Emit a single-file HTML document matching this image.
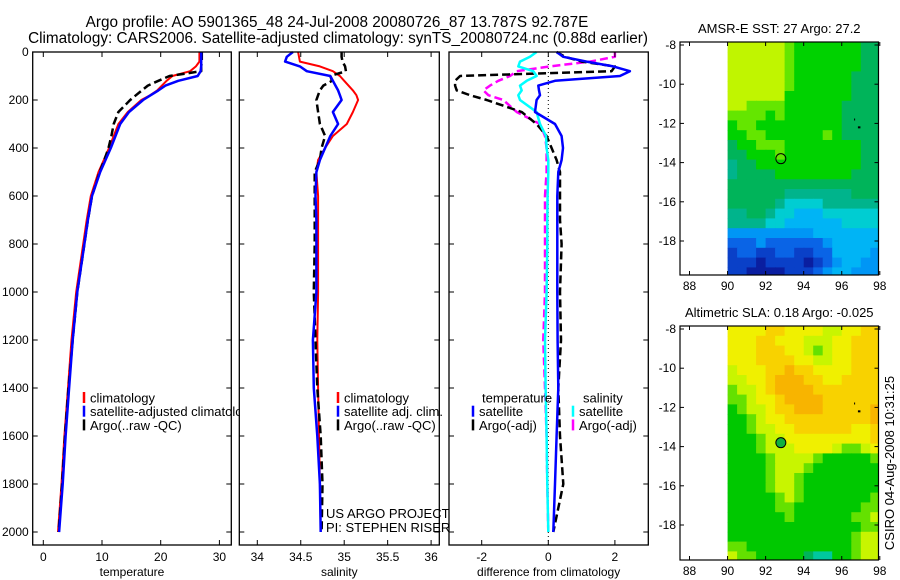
<!DOCTYPE html>
<html><head><meta charset="utf-8"><style>
html,body{margin:0;padding:0;background:#fff;}
svg{display:block;font-family:"Liberation Sans",sans-serif;}
</style></head><body>
<svg id="fig" width="900" height="580" viewBox="0 0 900 580" xmlns="http://www.w3.org/2000/svg">
<rect width="900" height="580" fill="#fff"/>
<text x="337" y="27" font-size="15.3" text-anchor="middle">Argo profile: AO 5901365_48 24-Jul-2008 20080726_87 13.787S 92.787E</text>
<text x="338" y="43" font-size="15.3" text-anchor="middle">Climatology: CARS2006. Satellite-adjusted climatology: synTS_20080724.nc (0.88d earlier)</text>
<g id="layer"></g>
<text transform="translate(894,463) rotate(-90)" font-size="13" text-anchor="middle">CSIRO 04-Aug-2008 10:31:25</text>
</svg>
<script>
// ---- data ----
const depths = [0,20,40,60,80,100,120,140,160,180,200,250,300,350,400,450,500,600,700,800,1000,1200,1400,1600,1800,2000];
const tempClim = [26.6,26.6,26.6,26,25,22,21,20.2,19.4,18.2,16.7,14.4,12.8,12,11.2,10.3,9.4,8.1,7.4,6.8,5.6,4.8,4.2,3.6,3.1,2.5];
const tempSat  = [26.9,26.9,26.9,26.9,26.8,26.3,23,20.8,19.6,18.3,17,14.6,13.1,12.3,11.5,10.6,9.7,8.3,7.6,7,5.8,5,4.4,3.8,3.3,2.7];
const tempArgo = [27,27,27,26.9,26.9,21.5,19.6,17.8,16.8,15.8,14.8,12.8,12,11.6,11.1,10.4,9.6,8.3,7.6,7,5.8,5,4.3,3.7,3.2,2.6];
const salClim = [34.47,34.48,34.49,34.72,34.87,34.95,35.0,35.05,35.1,35.14,35.16,35.1,35.03,34.87,34.78,34.7,34.68,34.7,34.7,34.7,34.7,34.69,34.7,34.71,34.72,34.73];
const salSat  = [34.41,34.34,34.32,34.49,34.57,34.84,34.87,34.9,34.93,34.95,34.97,34.87,34.93,34.84,34.78,34.72,34.68,34.67,34.68,34.68,34.68,34.64,34.65,34.69,34.72,34.73];
const salArgo = [34.97,34.97,34.98,35.01,35.02,34.84,34.86,34.76,34.72,34.7,34.68,34.7,34.72,34.78,34.74,34.72,34.66,34.66,34.66,34.66,34.65,34.67,34.69,34.73,34.75,34.74];
const dTempSat  = [0.25,0.45,1.15,1.95,2.45,2.15,0.2,-0.3,-0.28,-0.25,-0.35,-0.4,0.2,0.4,0.44,0.4,0.3,0.27,0.27,0.27,0.27,0.28,0.3,0.25,0.2,0.15];
const dTempArgo = [0.25,0.5,1.0,2.0,1.9,-2.65,-2.8,-2.8,-2.75,-2.35,-1.85,-0.8,-0.35,-0.05,0.1,0.25,0.35,0.35,0.35,0.4,0.35,0.38,0.3,0.35,0.45,0.15];
const dSalSat   = [-0.35,-0.55,-0.85,-0.9,-0.45,-0.35,-0.65,-0.85,-0.8,-0.9,-0.85,-0.35,-0.25,-0.07,-0.05,0,0,-0.02,-0.03,-0.03,-0.05,-0.1,-0.08,-0.05,-0.03,0];
const dSalArgo  = [2.0,2.0,1.25,0.05,-0.95,-1.15,-1.5,-1.75,-1.95,-1.8,-1.35,-0.95,-0.25,-0.1,-0.05,-0.05,-0.05,-0.1,-0.1,-0.1,-0.1,-0.15,-0.1,-0.05,-0.03,0];
const depthTicks = [0,200,400,600,800,1000,1200,1400,1600,1800,2000];
const tempTicks = [0,10,20,30];
const salTicks = [34,34.5,35,35.5,36];
const diffTicks = [-2,0,2];
const lonTicks = [88,90,92,94,96,98];
const latTicks = [-8,-10,-12,-14,-16,-18];
// SST grid: rows lat -8..-19.5 step 0.5, cols lon 90..97.5 step 0.5 (codes 0-a)
const sstGrid = [
"aaaaaa9888888877","aaaaaa9888888877","aaaaaa9888888877","aaaaaa9888888777","aaaaaa9888888777","aaaaaa8888888777",
"aa99998888887777","9999898888887777","8998888888887777","8899888888987777","7889998888888877","7788898888888877",
"6778888888888877","6777788888888777","7777777777777777","7777776666666777","7777765555666666","6677655444555555",
"6666554444445555","3333333334444444","2223222222344444","1221122112244443","1110111101234433","1100001112344333"];
// SLA grid: codes 6-d
const slaGrid = [
"bbbbccbbbbaabbcc","bbbccbbbaaabbccc","bbbcccbba9abbccc","bbbccccbbaabbccc","abbbccdccbbbbccc","aabbcdddccbbcccc",
"9aabcddddccccccc","99abbcddddcccccc","89aabccdddcccccd","889abbcccccccccd","889aabbccccccbbc","8889aabbbbbbbbbc",
"8889aaabbbba99ab","88889aaaa9888889","88889aaa98888888","88889aa988888888","88889aa988888888","888889a988888889",
"8888899888888899","888888988888899a","8888888888888899","88888888888889aa","99888888888889aa","a99888887668 9aa".replace(' ','8')];
const sstColors = {"0":"#0a1ea0","1":"#0a40c8","2":"#0a64e6","3":"#0096f5","4":"#00b4f5","5":"#00cdd2","6":"#00b48c","7":"#00b45a","8":"#00d200","9":"#64e600","a":"#c0f500"};
const slaColors = {"6":"#00c8a0","7":"#00b45a","8":"#00c800","9":"#64e100","a":"#c8f500","b":"#f0f000","c":"#f8d200","d":"#f8b400"};

const NS="http://www.w3.org/2000/svg";
const layer=document.getElementById('layer');
function mk(tag,attrs,parent){const e=document.createElementNS(NS,tag);for(const k in attrs)e.setAttribute(k,attrs[k]);(parent||layer).appendChild(e);return e;}

const Y0=52, YPX=0.24;
function yD(d){return Y0+d*YPX;}
const PT=52, PB=545;

function panel(name,x0,x1,xmin,xmax,ticks,fmtLabel,xlabel,showY){
  const g=mk('g',{});
  
  
  mk('rect',{x:x0,y:PT,width:x1-x0,height:PB-PT,fill:'#fff'},g);
  const sx=v=>x0+(v-xmin)/(xmax-xmin)*(x1-x0);
  return {g,sx,x0,x1,ticks,fmtLabel,xlabel,showY};
}
function finishPanel(p){
  const g=p.g;
  const cl=mk('rect',{x:p.x0,y:PT,width:p.x1-p.x0,height:PB-PT,fill:'none',stroke:'#000','stroke-width':1.3},g);
  
  
  p.ticks.forEach(v=>{
    const x=p.sx(v);
    mk('line',{x1:x,y1:PB,x2:x,y2:PB-5,stroke:'#000'},g);
    mk('line',{x1:x,y1:PT,x2:x,y2:PT+5,stroke:'#000'},g);
    const t=mk('text',{x:x,y:PB+16,'font-size':12,'text-anchor':'middle'},g);
    t.textContent=p.fmtLabel(v);
    
    
  });
  depthTicks.forEach(d=>{
    const y=yD(d);
    mk('line',{x1:p.x0,y1:y,x2:p.x0+5,y2:y,stroke:'#000'},g);
    mk('line',{x1:p.x1,y1:y,x2:p.x1-5,y2:y,stroke:'#000'},g);
    if(p.showY){
      const t=mk('text',{x:p.x0-4,y:y+4,'font-size':12,'text-anchor':'end'},g);
      t.textContent=d;
      
      
    }
  });
  const xl=mk('text',{x:(p.x0+p.x1)/2,y:PB+31,'font-size':12,'text-anchor':'middle'},g);
  xl.textContent=p.xlabel;
  
  
}
function series(p,vals,color,w,dash,name){
  const pts=vals.map((v,i)=>p.sx(v).toFixed(1)+','+yD(depths[i]).toFixed(1)).join(' ');
  const a={points:pts,fill:'none',stroke:color,'stroke-width':w,'stroke-linejoin':'round'};
  if(dash)a['stroke-dasharray']=dash;
  const e=mk('polyline',a,p.g);
  
  
}
function legend(p,x,y,items){
  items.forEach((it,i)=>{
    const yy=y+i*13.7;
    mk('line',{x1:x,y1:yy-6,x2:x,y2:yy+5,stroke:it[1],'stroke-width':2.5},p.g);
    const t=mk('text',{x:x+6,y:yy+4.5,'font-size':13},p.g);
    t.textContent=it[0];
    
    
  });
}

const p1=panel('temperature-panel',32.7,231.3,(32.7-43.3)/5.87,(231.3-43.3)/5.87,tempTicks,v=>v,'temperature',true);
series(p1,tempClim,'#f00',2,null,'temp-climatology-line');
series(p1,tempArgo,'#000',2.5,'8,4','temp-argo-line');
series(p1,tempSat,'#00f',2.5,null,'temp-satellite-line');
legend(p1,84,398,[['climatology','#f00'],['satellite-adjusted climatology','#00f'],['Argo(..raw -QC)','#000']]);
finishPanel(p1);

const p2=panel('salinity-panel',239.3,439.3,34+(239.3-257.3)/86.9,34+(439.3-257.3)/86.9,salTicks,v=>v,'salinity',false);
series(p2,salClim,'#f00',2,null,'sal-climatology-line');
series(p2,salArgo,'#000',2.5,'8,4','sal-argo-line');
series(p2,salSat,'#00f',2.5,null,'sal-satellite-line');
legend(p2,338,398,[['climatology','#f00'],['satellite adj. clim.','#00f'],['Argo(..raw -QC)','#000']]);
[['US ARGO PROJECT',518],['PI: STEPHEN RISER',532]].forEach(s=>{
  const t=mk('text',{x:326,y:s[1],'font-size':13},p2.g);t.textContent=s[0];
  
  
});
finishPanel(p2);

const p3=panel('difference-panel',449,648.3,(449-548.3)/33.3,(648.3-548.3)/33.3,diffTicks,v=>v,'difference from climatology',false);
mk('line',{x1:p3.sx(0),y1:PT,x2:p3.sx(0),y2:PB,stroke:'#000','stroke-dasharray':'1,3'},p3.g);
series(p3,dSalArgo,'#f0f','2.5','8,4','sal-argo-diff-line');
series(p3,dTempArgo,'#000','2.5','8,4','temp-argo-diff-line');
series(p3,dSalSat,'#0ff',2.5,null,'sal-satellite-diff-line');
series(p3,dTempSat,'#00f',2.5,null,'temp-satellite-diff-line');
[['temperature',482,398],['salinity',583,398]].forEach(s=>{
  const t=mk('text',{x:s[1],y:s[2]+4.5,'font-size':13},p3.g);t.textContent=s[0];
  
  
});
legend(p3,473,411.7,[['satellite','#00f'],['Argo(-adj)','#000']]);
legend(p3,573,411.7,[['satellite','#0ff'],['Argo(-adj)','#f0f']]);
finishPanel(p3);

function map(name,top,bottom,grid,colors,title,filledCircle){
  const g=mk('g',{});
  
  
  const L=680,R=878.5;
  const sx=v=>689.5+(v-88)*19.03;
  const sy=v=>top+3+(-8-v)*19.6;
  const cp='clip-'+name;
  const defs=mk('defs',{},g);
  const c=mk('clipPath',{id:cp},defs);
  mk('rect',{x:L,y:top,width:R-L,height:bottom-top},c);
  const cells=mk('g',{'clip-path':'url(#'+cp+')'},g);
  grid.forEach((row,r)=>{
    for(let ci=0;ci<16;ci++){
      const lon=90+ci*0.5, lat=-8+3/19.6 - r*0.5;
      const x=sx(lon), y=sy(lat);
      const cell=mk('rect',{x:x.toFixed(1),y:y.toFixed(1),width:10.2,height:10.5,fill:colors[row[ci]]||colors['8']},cells);
      
      
    }
  });
  mk('rect',{x:L,y:top,width:R-L,height:bottom-top,fill:'none',stroke:'#000','stroke-width':1.2},g);
  lonTicks.forEach(v=>{
    const x=sx(v);
    mk('line',{x1:x,y1:bottom,x2:x,y2:bottom-4,stroke:'#000'},g);
    mk('line',{x1:x,y1:top,x2:x,y2:top+4,stroke:'#000'},g);
    const t=mk('text',{x:x,y:bottom+15,'font-size':12,'text-anchor':'middle'},g);t.textContent=v;
    
    
  });
  latTicks.forEach(v=>{
    const y=sy(v);
    mk('line',{x1:L,y1:y,x2:L+4,y2:y,stroke:'#000'},g);
    mk('line',{x1:R,y1:y,x2:R-4,y2:y,stroke:'#000'},g);
    const t=mk('text',{x:L-4,y:y+4,'font-size':12,'text-anchor':'end'},g);t.textContent=v;
    
    
  });
  const circ=mk('circle',{cx:sx(92.8),cy:sy(-13.8),r:5,fill:filledCircle?'#10b040':'none',stroke:'#000','stroke-width':1},g);
  
  
  mk('rect',{x:sx(96.65),y:sy(-11.75),width:1,height:2,fill:'#000'},g);
  mk('rect',{x:sx(96.85),y:sy(-12.15),width:2.5,height:2,fill:'#000'},g);
  const tt=mk('text',{x:(L+R)/2,y:top-9,'font-size':13,'text-anchor':'middle'},g);tt.textContent=title;
  
  
}
map('sst-map',42,275,sstGrid,sstColors,'AMSR-E SST: 27 Argo: 27.2',false);
map('sla-map',326,560,slaGrid,slaColors,'Altimetric SLA: 0.18 Argo: -0.025',true);
</script>
</body></html>
